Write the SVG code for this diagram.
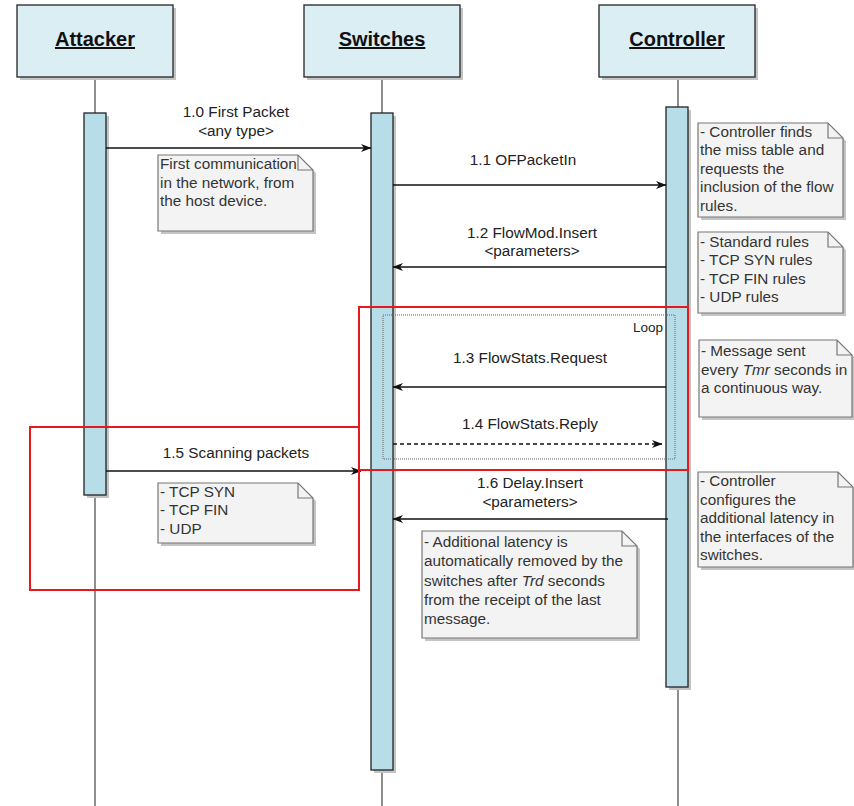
<svg xmlns="http://www.w3.org/2000/svg" width="854" height="806" viewBox="0 0 854 806">
<style>
text{font-family:"Liberation Sans",Arial,sans-serif;font-size:15.3px;fill:#222}
.hdr{fill:#dbeef4;stroke:#333;stroke-width:1.4}
.hdrt{font-size:20px;font-weight:bold;text-decoration:underline;fill:#111;text-anchor:middle}
.bar{fill:#b7dde8;stroke:#222;stroke-width:1.3}
.sh{fill:#c4c4c4;stroke:none}
.life{stroke:#444;stroke-width:1.2;fill:none}
.note{fill:#f3f3f3;stroke:#777;stroke-width:1.2}
.fold{fill:none;stroke:#777;stroke-width:1.2}
.nt{fill:#333}
.msg{stroke:#111;stroke-width:1.3;fill:none}
.dash{stroke-dasharray:4,3}
.lbl{text-anchor:middle}
.red{fill:none;stroke:#e8191c;stroke-width:2}
.loop{fill:none;stroke:#666;stroke-width:1;stroke-dasharray:1,1}
</style>
<defs>
<marker id="ah" markerWidth="11" markerHeight="9" refX="10" refY="4.5" orient="auto" markerUnits="userSpaceOnUse">
<path d="M0,0.5 L10.5,4.5 L0,8.5 L3,4.5 Z" fill="#111"/>
</marker>
</defs>

<g id="lifelines">
<line class="life" x1="95" y1="77" x2="95" y2="806"/>
<line class="life" x1="382" y1="77" x2="382" y2="806"/>
<line class="life" x1="678" y1="77" x2="678" y2="806"/>
</g>

<g id="attacker">
<rect class="sh" x="20" y="8" width="156" height="72"/>
<rect class="hdr" x="17" y="5" width="156" height="72"/>
<text class="hdrt" x="95" y="46">Attacker</text>
<rect class="sh" x="87" y="116" width="22" height="382"/>
<rect class="bar" x="84" y="113" width="22" height="382"/>
</g>

<g id="switches">
<rect class="sh" x="307" y="8" width="156" height="72"/>
<rect class="hdr" x="304" y="5" width="156" height="72"/>
<text class="hdrt" x="382" y="46">Switches</text>
<rect class="sh" x="374" y="116" width="22" height="657"/>
<rect class="bar" x="371" y="113" width="22" height="657"/>
</g>

<g id="controller">
<rect class="sh" x="602" y="8" width="156" height="72"/>
<rect class="hdr" x="599" y="5" width="156" height="72"/>
<text class="hdrt" x="677" y="46">Controller</text>
<rect class="sh" x="669" y="110" width="22" height="580"/>
<rect class="bar" x="666" y="107" width="22" height="580"/>
</g>

<g id="note-first">
<path class="sh" d="M161,158 H301 L316,173 V234 H161 Z"/>
<path class="note" d="M158,155 H298 L313,170 V231 H158 Z"/>
<path class="fold" d="M298,155 V170 H313"/>
<text class="nt" x="160" y="169">First communication</text>
<text class="nt" x="160" y="187.5">in the network, from</text>
<text class="nt" x="160" y="206">the host device.</text>
</g>

<g id="note-miss">
<path class="sh" d="M701,126 H831 L846,141 V220 H701 Z"/>
<path class="note" d="M698,123 H828 L843,138 V217 H698 Z"/>
<path class="fold" d="M828,123 V138 H843"/>
<text class="nt" x="700" y="137">- Controller finds</text>
<text class="nt" x="700" y="155.4">the miss table and</text>
<text class="nt" x="700" y="173.8">requests the</text>
<text class="nt" x="700" y="192.2">inclusion of the flow</text>
<text class="nt" x="700" y="210.6">rules.</text>
</g>

<g id="note-rules">
<path class="sh" d="M701,235 H831 L846,250 V316 H701 Z"/>
<path class="note" d="M698,232 H828 L843,247 V313 H698 Z"/>
<path class="fold" d="M828,232 V247 H843"/>
<text class="nt" x="700" y="247">- Standard rules</text>
<text class="nt" x="700" y="265.4">- TCP SYN rules</text>
<text class="nt" x="700" y="283.8">- TCP FIN rules</text>
<text class="nt" x="700" y="302.2">- UDP rules</text>
</g>

<g id="note-tmr">
<path class="sh" d="M702,343 H840 L855,358 V420 H702 Z"/>
<path class="note" d="M699,340 H837 L852,355 V417 H699 Z"/>
<path class="fold" d="M837,340 V355 H852"/>
<text class="nt" x="701" y="356">- Message sent</text>
<text class="nt" x="701" y="374.5">every <tspan font-style="italic">Tmr</tspan> seconds in</text>
<text class="nt" x="701" y="393">a continuous way.</text>
</g>

<g id="note-scan">
<path class="sh" d="M161,486 H301 L316,501 V546 H161 Z"/>
<path class="note" d="M158,483 H298 L313,498 V543 H158 Z"/>
<path class="fold" d="M298,483 V498 H313"/>
<text class="nt" x="160" y="497">- TCP SYN</text>
<text class="nt" x="160" y="515.4">- TCP FIN</text>
<text class="nt" x="160" y="533.8">- UDP</text>
</g>

<g id="note-latency">
<path class="sh" d="M425,534 H625 L640,549 V641 H425 Z"/>
<path class="note" d="M422,531 H622 L637,546 V638 H422 Z"/>
<path class="fold" d="M622,531 V546 H637"/>
<text class="nt" x="424" y="547">- Additional latency is</text>
<text class="nt" x="424" y="566.3">automatically removed by the</text>
<text class="nt" x="424" y="585.6">switches after <tspan font-style="italic">Trd</tspan> seconds</text>
<text class="nt" x="424" y="604.9">from the receipt of the last</text>
<text class="nt" x="424" y="624.2">message.</text>
</g>

<g id="note-config">
<path class="sh" d="M701,475 H841 L856,490 V570 H701 Z"/>
<path class="note" d="M698,472 H838 L853,487 V567 H698 Z"/>
<path class="fold" d="M838,472 V487 H853"/>
<text class="nt" x="700" y="486">- Controller</text>
<text class="nt" x="700" y="504.5">configures the</text>
<text class="nt" x="700" y="523">additional latency in</text>
<text class="nt" x="700" y="541.5">the interfaces of the</text>
<text class="nt" x="700" y="560">switches.</text>
</g>

<g id="loop">
<rect class="loop" x="383" y="315" width="292" height="144"/>
<text x="663" y="332" font-size="13.5" text-anchor="end" style="font-size:13.5px">Loop</text>
</g>

<g id="connectors">
<line class="msg" x1="106" y1="148" x2="371" y2="148" marker-end="url(#ah)"/>
<text class="lbl" x="236" y="117">1.0 First Packet</text>
<text class="lbl" x="236" y="136">&lt;any type&gt;</text>

<line class="msg" x1="393" y1="185" x2="666" y2="185" marker-end="url(#ah)"/>
<text class="lbl" x="523" y="165">1.1 OFPacketIn</text>

<line class="msg" x1="666" y1="267" x2="393" y2="267" marker-end="url(#ah)"/>
<text class="lbl" x="532" y="238">1.2 FlowMod.Insert</text>
<text class="lbl" x="532" y="256">&lt;parameters&gt;</text>

<line class="msg" x1="666" y1="387" x2="393" y2="387" marker-end="url(#ah)"/>
<text class="lbl" x="530" y="363">1.3 FlowStats.Request</text>

<line class="msg dash" x1="393" y1="444" x2="662" y2="444" marker-end="url(#ah)"/>
<text class="lbl" x="530" y="429">1.4 FlowStats.Reply</text>

<line class="msg" x1="106" y1="471" x2="361" y2="471" marker-end="url(#ah)"/>
<text class="lbl" x="236" y="458">1.5 Scanning packets</text>

<line class="msg" x1="668" y1="519" x2="393" y2="519" marker-end="url(#ah)"/>
<text class="lbl" x="530" y="488">1.6 Delay.Insert</text>
<text class="lbl" x="530" y="506.5">&lt;parameters&gt;</text>
</g>

<g id="highlights">
<rect class="red" x="359" y="307" width="329" height="163"/>
<rect class="red" x="30" y="427" width="329" height="163"/>
</g>
</svg>
